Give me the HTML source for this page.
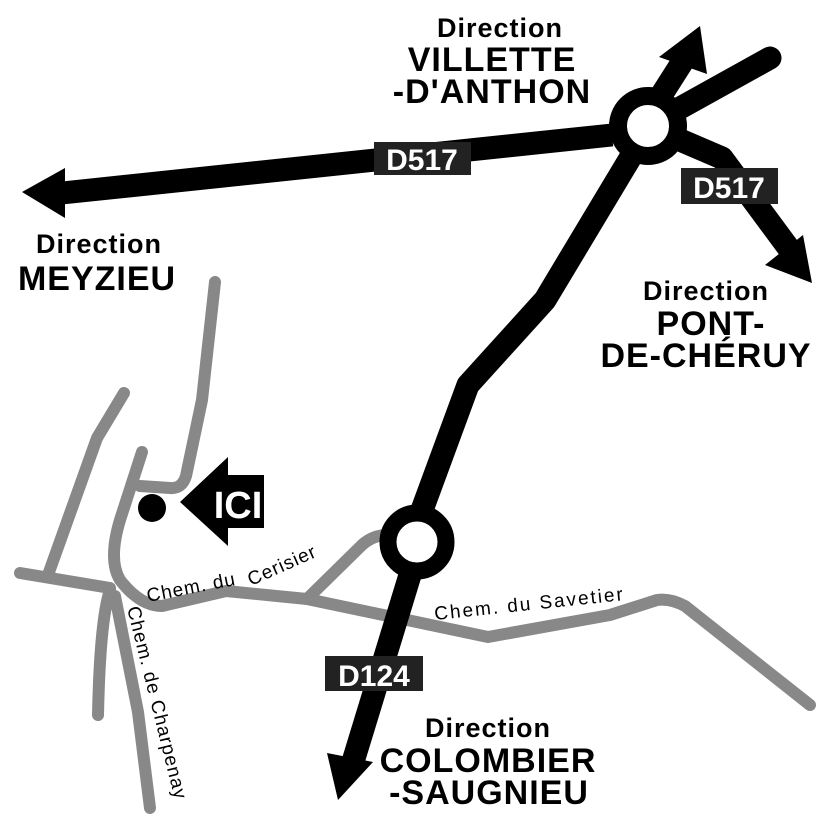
<!DOCTYPE html>
<html><head><style>
html,body{margin:0;padding:0;background:#fff;}
svg{display:block;}
.d{font-family:"Liberation Sans",sans-serif;font-weight:bold;fill:#000;}
.s{font-family:"Liberation Sans",sans-serif;font-size:19px;letter-spacing:2px;fill:#000;}
</style></head><body>
<svg width="827" height="827" viewBox="0 0 827 827" xmlns="http://www.w3.org/2000/svg">
<rect width="827" height="827" fill="#fff"/>
<!-- gray roads -->
<g fill="none" stroke="#888" stroke-width="12" stroke-linecap="round" stroke-linejoin="round">
<path d="M215,282 L202,400 L186,476 Q182,489 170,488 L140,486"/>
<path d="M124,393 L97,438 L48,575"/>
<path d="M142,452 L120,520 Q108,560 120,580 Q140,606 162,606 L226,591 L307,599 L488,637 L610,615 L657,600 Q670,598 685,606 L810,705"/>
<path d="M307,599 L362,545 Q372,536 385,535"/>
<path d="M20,573 L110,588"/>
<path d="M110,590 Q100,620 98,715"/>
<path d="M115,596 L138,712 L150,808"/>
</g>
<!-- black roads -->
<g fill="none" stroke="#000" stroke-width="23" stroke-linejoin="round">
<path d="M612,135 Q400,158 62,193"/>
<path d="M655,105 L690,50"/>
<path d="M680,108 L770,58" stroke-linecap="round"/>
<path d="M680,140 L722,158 L790,250"/>
<path d="M632,155 L545,300 L468,385 L422,510"/>
<path d="M410,575 L352,765"/>
</g>
<polygon points="22,192 65,168 65,218" fill="#000"/>
<polygon points="700,26 659,57 707,74" fill="#000"/>
<polygon points="812,283 765,265 803,235" fill="#000"/>
<polygon points="338,800 327,753 373,762" fill="#000"/>
<circle cx="648" cy="126" r="30" fill="#fff" stroke="#000" stroke-width="18"/>
<circle cx="417" cy="542" r="29" fill="#fff" stroke="#000" stroke-width="17"/>
<!-- labels -->
<rect x="374" y="142" width="97" height="33" fill="#222"/>
<text x="422" y="170" text-anchor="middle" class="d" font-size="30" style="fill:#fff">D517</text>
<rect x="681" y="168" width="97" height="36" fill="#222"/>
<text x="729" y="198" text-anchor="middle" class="d" font-size="30" style="fill:#fff">D517</text>
<rect x="325" y="656" width="98" height="35" fill="#222"/>
<text x="374" y="686" text-anchor="middle" class="d" font-size="30" style="fill:#fff">D124</text>
<!-- ICI -->
<circle cx="152" cy="508" r="14" fill="#000"/>
<polygon points="180,502 228,457 228,475 264,475 264,528 228,528 228,546" fill="#000"/>
<text x="238" y="518" text-anchor="middle" class="d" font-size="38" style="fill:#fff">ICI</text>
<!-- directions -->
<g class="d" text-anchor="middle">
<text x="500" y="37" font-size="27" letter-spacing="1">Direction</text>
<text x="492" y="71" font-size="34" letter-spacing="1">VILLETTE</text>
<text x="492" y="103" font-size="34" letter-spacing="1">-D'ANTHON</text>
<text x="99" y="253" font-size="27" letter-spacing="1">Direction</text>
<text x="97" y="290" font-size="34" letter-spacing="1">MEYZIEU</text>
<text x="706" y="300" font-size="27" letter-spacing="1">Direction</text>
<text x="711" y="335" font-size="34" letter-spacing="1">PONT-</text>
<text x="706" y="367" font-size="34" letter-spacing="1">DE-CHÉRUY</text>
<text x="488" y="737" font-size="27" letter-spacing="1">Direction</text>
<text x="488" y="772" font-size="34" letter-spacing="1">COLOMBIER</text>
<text x="489" y="804" font-size="34" letter-spacing="1">-SAUGNIEU</text>
</g>
<!-- road names -->
<text class="s" style="letter-spacing:1px" transform="translate(148,602) rotate(-11)">Chem. du</text>
<text class="s" style="letter-spacing:1px" transform="translate(251,586) rotate(-24)">Cerisier</text>
<text class="s" transform="translate(435,620) rotate(-6)">Chem. du Savetier</text>
<text class="s" style="letter-spacing:1px" transform="translate(127,608) rotate(76)">Chem. de Charpenay</text>
</svg>
</body></html>
